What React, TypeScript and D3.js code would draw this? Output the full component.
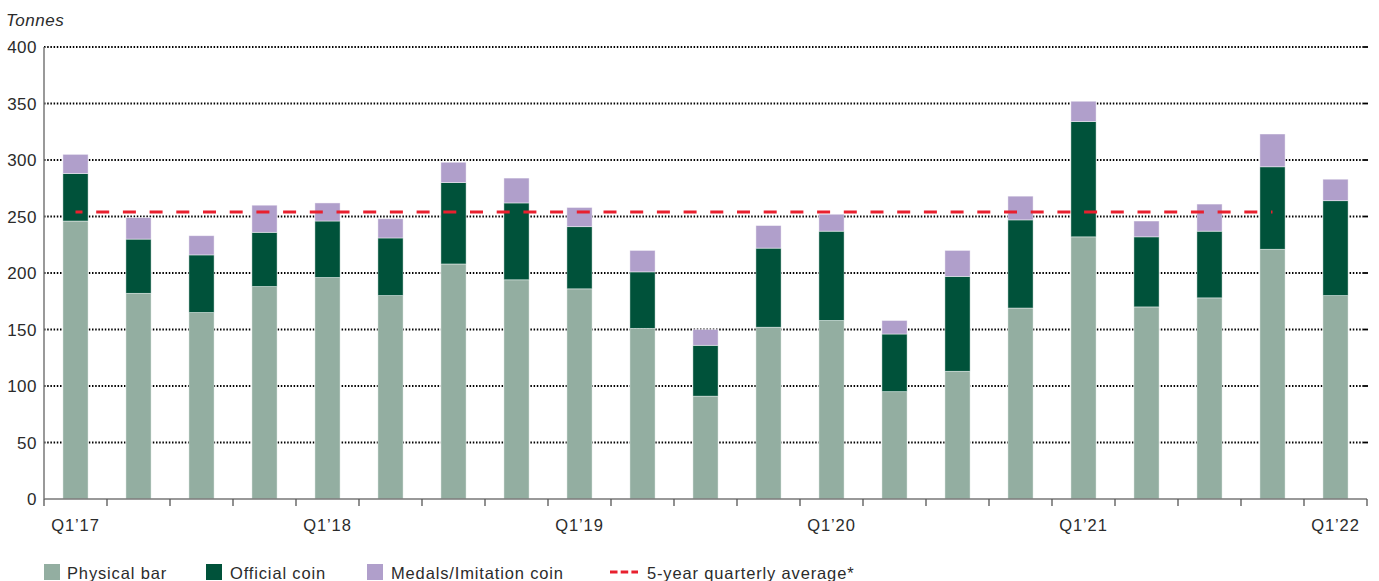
import React from "react";
import * as d3 from "d3";

const categories = [
  "Q1'17", "Q2'17", "Q3'17", "Q4'17",
  "Q1'18", "Q2'18", "Q3'18", "Q4'18",
  "Q1'19", "Q2'19", "Q3'19", "Q4'19",
  "Q1'20", "Q2'20", "Q3'20", "Q4'20",
  "Q1'21", "Q2'21", "Q3'21", "Q4'21",
  "Q1'22",
];
const tickLabels = ["Q1\u201917", "Q1\u201918", "Q1\u201919", "Q1\u201920", "Q1\u201921", "Q1\u201922"];
const tickCategories = ["Q1'17", "Q1'18", "Q1'19", "Q1'20", "Q1'21", "Q1'22"];

const physicalBar = [246, 182, 165, 188, 196, 180, 208, 194, 186, 151, 91, 152, 158, 95, 113, 169, 232, 170, 178, 221, 180];
const officialCoin = [42, 48, 51, 48, 50, 51, 72, 68, 55, 50, 45, 70, 79, 51, 84, 78, 102, 62, 59, 73, 84];
const medalsImitation = [17, 19, 17, 24, 16, 17, 18, 22, 17, 19, 14, 20, 15, 12, 23, 21, 18, 14, 24, 29, 19];

const avgValue = 254;
const avgStart = "Q1'17";
const avgEnd = "Q4'21";

const yTicks = [0, 50, 100, 150, 200, 250, 300, 350, 400];

const seriesNames = ["Physical bar", "Official coin", "Medals/Imitation coin"];
const seriesColors = ["#93aea1", "#00523a", "#b09fcb"];
const avgLabel = "5-year quarterly average*";
const avgColor = "#e8202e";

const W = 1379;
const H = 581;
const FONT = "'Liberation Sans', Arial, sans-serif";

export default function App() {
  const left = 44;
  const right = 1367;
  const top = 47;
  const bottom = 499;

  const x = d3
    .scaleBand<string>()
    .domain(categories)
    .range([left, right])
    .paddingInner(0.6)
    .paddingOuter(0.3);
  const y = d3.scaleLinear().domain([0, 400]).range([bottom, top]);

  const step = x.step();
  const bw = x.bandwidth();
  const offset = (step - bw) / 2;

  const rows = categories.map((c, i) => ({
    cat: c,
    physical: physicalBar[i],
    official: officialCoin[i],
    medals: medalsImitation[i],
  }));
  const stack = d3.stack<any>().keys(["physical", "official", "medals"]);
  const stacked = stack(rows);

  const boundaries = categories.map((c) => (x(c) as number) - offset).concat([right]);

  const textColor = "#2b2b2b";

  const legendItems = [
    { x: 44, textX: 67 },
    { x: 206, textX: 230 },
    { x: 367, textX: 391 },
  ];

  return (
    <svg
      width={W}
      height={H}
      style={{ position: "absolute", left: 0, top: 0, background: "#fff" }}
      fontFamily={FONT}
    >
      {/* Unit label */}
      <text x={6} y={26} fontSize={17} fontStyle="italic" fill={textColor} letterSpacing={0.5}>
        Tonnes
      </text>

      {/* Gridlines */}
      {yTicks
        .filter((t) => t > 0)
        .map((t) => (
          <g key={t}>
            <line
              x1={left}
              x2={right - 4}
              y1={y(t)}
              y2={y(t)}
              stroke="#000"
              strokeWidth={1.9}
              strokeDasharray="1.5 1.7"
            />
            <line x1={right - 4} x2={right + 1} y1={y(t)} y2={y(t)} stroke="#000" strokeWidth={1.8} />
          </g>
        ))}

      {/* Y tick labels */}
      {yTicks.map((t) => (
        <text
          key={t}
          x={37}
          y={y(t)}
          dy="0.36em"
          textAnchor="end"
          fontSize={17}
          fill={textColor}
          letterSpacing={0.5}
        >
          {t}
        </text>
      ))}

      {/* Bars */}
      {stacked.map((s, si) => (
        <g key={si}>
          {s.map((d, i) => (
            <rect
              key={i}
              x={x(categories[i]) as number}
              y={y(d[1])}
              width={bw}
              height={y(d[0]) - y(d[1])}
              fill={seriesColors[si]}
              stroke="rgba(255,255,255,0.55)"
              strokeWidth={0.8}
            />
          ))}
        </g>
      ))}

      {/* 5-year average line */}
      <line
        x1={(x(avgStart) as number) + bw / 2}
        x2={(x(avgEnd) as number) + bw / 2}
        y1={y(avgValue)}
        y2={y(avgValue)}
        stroke={avgColor}
        strokeWidth={3}
        strokeDasharray="13 13.7"
        strokeDashoffset={6}
      />

      {/* Axes */}
      <line x1={left} x2={left} y1={top} y2={bottom} stroke="#777" strokeWidth={1.5} />
      <line x1={left} x2={right} y1={bottom} y2={bottom} stroke="#777" strokeWidth={1.5} />
      {boundaries.map((bx, i) => (
        <line key={i} x1={bx} x2={bx} y1={bottom} y2={bottom + 7} stroke="#555" strokeWidth={1.3} />
      ))}

      {/* X tick labels */}
      {tickCategories.map((c, i) => (
        <text
          key={c}
          x={(x(c) as number) + bw / 2}
          y={531}
          textAnchor="middle"
          fontSize={16.5}
          fill={textColor}
          letterSpacing={0.9}
        >
          {tickLabels[i]}
        </text>
      ))}

      {/* Legend */}
      {seriesNames.map((name, i) => (
        <g key={name}>
          <rect x={legendItems[i].x} y={564} width={16} height={16} fill={seriesColors[i]} />
          <text x={legendItems[i].textX} y={579} fontSize={16.5} fill={textColor} letterSpacing={0.85}>
            {name}
          </text>
        </g>
      ))}
      <line
        x1={610}
        x2={638}
        y1={572}
        y2={572}
        stroke={avgColor}
        strokeWidth={3}
        strokeDasharray="7.5 3.2"
      />
      <text x={647} y={579} fontSize={16.5} fill={textColor} letterSpacing={0.85}>
        {avgLabel}
      </text>
    </svg>
  );
}
